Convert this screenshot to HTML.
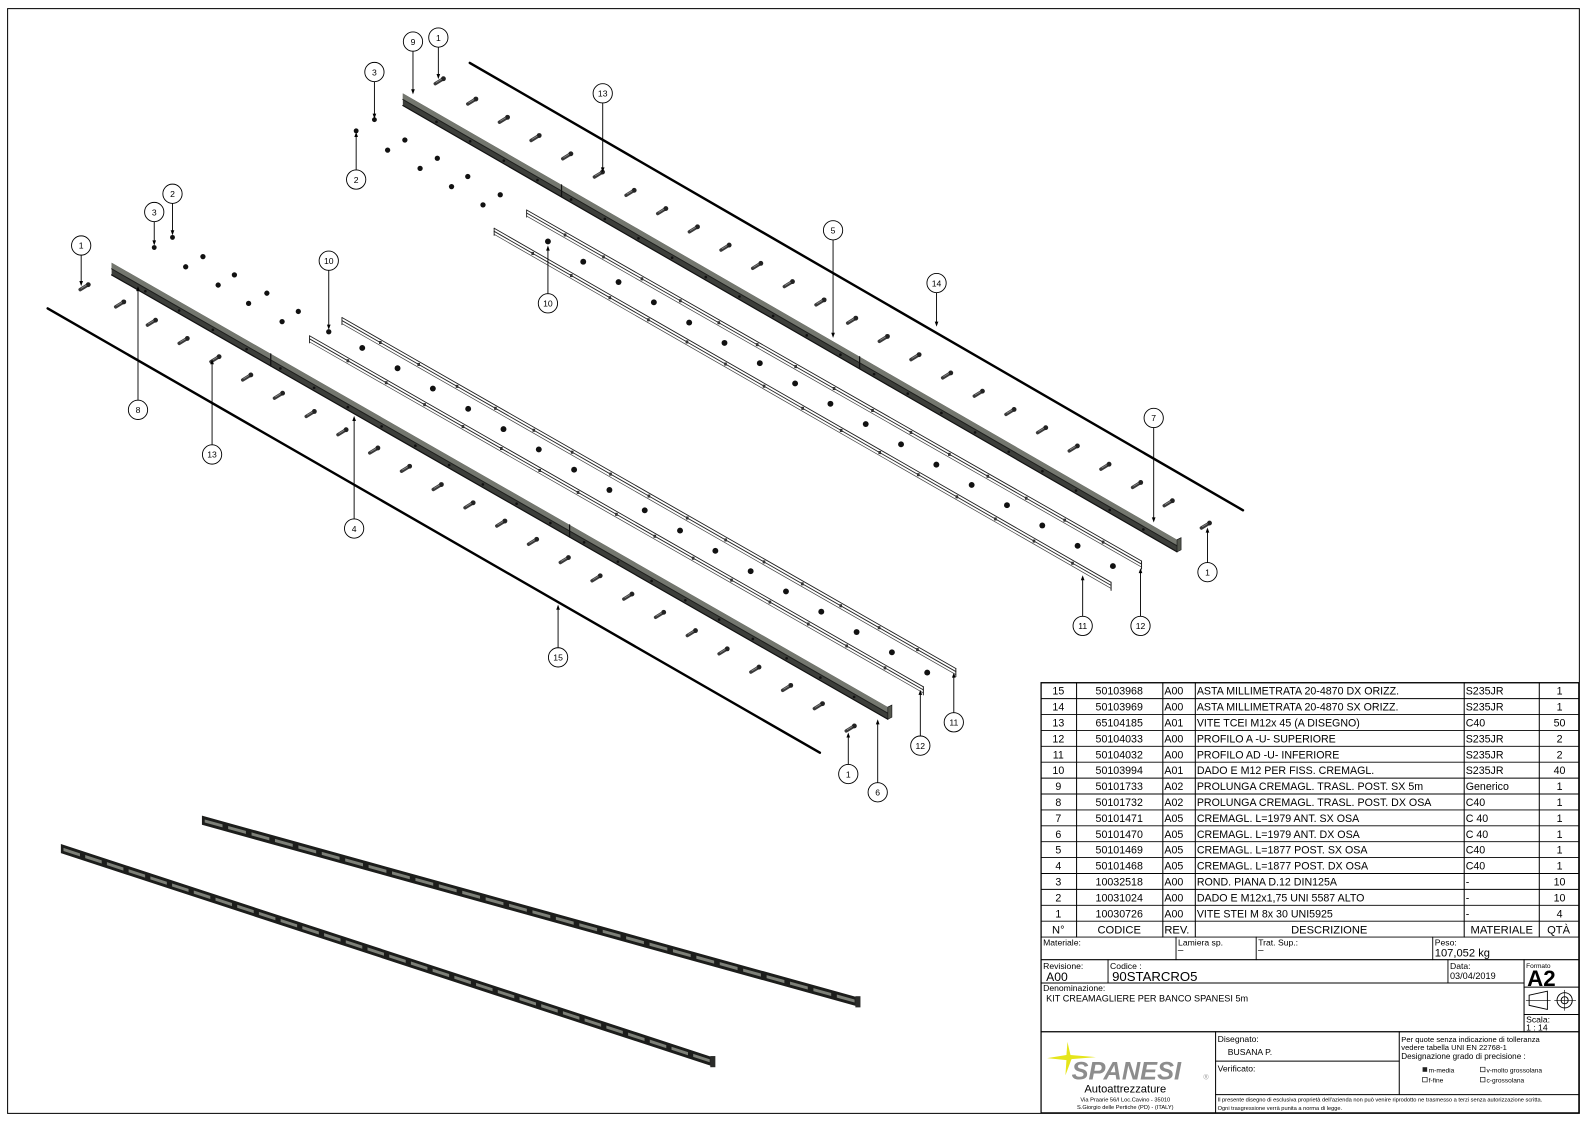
<!DOCTYPE html>
<html><head><meta charset="utf-8"><style>
html,body{margin:0;padding:0;background:#fff;}
svg{display:block;}
text{font-family:"Liberation Sans",Arial,sans-serif;}
</style></head><body>
<svg id="s" width="1589" height="1122" viewBox="0 0 1566 1106" preserveAspectRatio="none" xmlns="http://www.w3.org/2000/svg">
<rect x="0" y="0" width="1566" height="1106" fill="#fff"/>
<rect x="7.5" y="8.5" width="1549" height="1089" fill="none" stroke="#000" stroke-width="1"/>
<g id="draw"></g>
<g id="tbl" font-size="10.5">
<rect x="1026" y="673" width="530" height="424" fill="#fff" stroke="#000" stroke-width="1.2"/>
</g>
</svg>
<script>
(function(){
const NS="http://www.w3.org/2000/svg";
const D=document.getElementById('draw'),T=document.getElementById('tbl');
function el(p,tag,a,t){const e=document.createElementNS(NS,tag);for(const k in a)e.setAttribute(k,a[k]);if(t!==undefined)e.textContent=t;p.appendChild(e);return e;}
function line(p,x1,y1,x2,y2,c,w){return el(p,'line',{x1:x1,y1:y1,x2:x2,y2:y2,stroke:c||'#000','stroke-width':w||1,'stroke-linecap':'round'});}
function txt(p,x,y,s,sz,anchor,extra){const a={x:x,y:y,'font-size':sz||10.5,fill:'#000'};if(anchor)a['text-anchor']=anchor;Object.assign(a,extra||{});return el(p,'text',a,s);}
function bar(x1,y1,x2,y2,joints){
  el(D,'polygon',{points:`${x1},${y1-3} ${x2},${y2-3} ${x2},${y2+9} ${x1},${y1+9}`,fill:'#3c3e3a'});
  el(D,'polygon',{points:`${x1},${y1-3} ${x2},${y2-3} ${x2},${y2+3} ${x1},${y1+3}`,fill:'#74776f'});
  line(D,x1,y1+3,x2,y2+3,'#1e1f1d',1);
  line(D,x1,y1+9,x2,y2+9,'#111',1.2);
  el(D,'polygon',{points:`${x2},${y2-3} ${x2+4},${y2-5} ${x2+4},${y2+7} ${x2},${y2+9}`,fill:'#55584f',stroke:'#111','stroke-width':0.6});
  const n=Math.round((x2-x1)/33);
  for(let i=1;i<n;i++){const t=i/n;el(D,'circle',{cx:x1+(x2-x1)*t,cy:y1+(y2-y1)*t+6,r:1.3,fill:'#111'});}
  (joints||[]).forEach(t=>{const x=x1+(x2-x1)*t,y=y1+(y2-y1)*t;line(D,x,y-3,x,y+9,'#111',1.2);});
}
function profile(x1,y1,x2,y2){
  line(D,x1,y1,x2,y2,'#222',0.9);line(D,x1,y1+3,x2,y2+3,'#222',0.9);line(D,x1,y1+6,x2,y2+6,'#444',0.7);
  line(D,x1,y1,x1,y1+7,'#222',0.9);line(D,x2,y2,x2,y2+8,'#222',1);
  const n=Math.round((x2-x1)/37);
  for(let i=1;i<n;i++){const t=i/n;el(D,'rect',{x:x1+(x2-x1)*t-1.3,y:y1+(y2-y1)*t+1.5,width:2.6,height:3,fill:'#333'});}
}
function rod(x1,y1,x2,y2){line(D,x1,y1,x2,y2,'#000',2.4);}
function bolt(x,y){line(D,x-4,y+2.5,x+3,y-1.8,'#3a3a3a',3.4);el(D,'circle',{cx:x+4,cy:y-2.4,r:2.4,fill:'#222'});line(D,x-3,y+1.2,x+2,y-1.8,'#8a8a8a',0.8);}
function dot(x,y,r){el(D,'circle',{cx:x,cy:y,r:r||2.8,fill:'#111'});}
function balloon(bx,by,s,tx,ty){
  const r=9.5;const dir=ty>by?1:-1;
  line(D,bx,by+dir*r,tx,ty-dir*4,'#000',0.9);
  el(D,'polygon',{points:`${tx},${ty} ${tx-1.8},${ty-dir*5} ${tx+1.8},${ty-dir*5}`,fill:'#000'});
  el(D,'circle',{cx:bx,cy:by,r:r,fill:'#fff',stroke:'#000','stroke-width':0.9});
  txt(D,bx,by+3.2,s,8.5,'middle');
}
rod(463,62,1225,503);
for(let i=0;i<23;i++)bolt(465+i*31.2,100+i*18);
bar(397,95,1160,535,[0.205,0.59]);
profile(519,207,1125,553);
profile(487,225,1095,574);
for(let i=0;i<17;i++)dot(540+i*34.8,238+i*20,2.9);
[[382,148],[399,138],[414,166],[431,156],[445,184],[461,174],[476,202],[493,192]].forEach(p=>dot(p[0],p[1],2.6));
dot(351,129,2.4);dot(369,118,2.4);
bolt(433,80);bolt(1188,518);
rod(47,304,808,742);
for(let i=0;i<23;i++)bolt(118+i*31.3,300+i*18);
bar(110,262,875,700,[0.205,0.59]);
profile(337,313,942,659);
profile(305,331,910,677);
for(let i=0;i<17;i++)dot(357+i*34.8,343+i*20,2.9);
[[183,263],[200,253],[215,281],[231,271],[245,299],[263,289],[278,317],[294,307]].forEach(p=>dot(p[0],p[1],2.6));
dot(152,244,2.4);dot(170,234,2.4);dot(324,327,2.6);
bolt(83,283);bolt(838,718);
balloon(407,41,'9',407,93);balloon(432,37,'1',432,78);balloon(369,71,'3',369,117);
balloon(351,177,'2',351,130);balloon(594,92,'13',594,170);balloon(821,227,'5',821,333);
balloon(923,279,'14',923,322);balloon(1137,412,'7',1137,515);balloon(540,299,'10',540,242);
balloon(1190,564,'1',1190,520);balloon(1067,617,'11',1067,567);balloon(1124,617,'12',1124,560);
balloon(80,242,'1',80,282);balloon(152,209,'3',152,242);balloon(170,191,'2',170,232);
balloon(324,257,'10',324,325);balloon(136,404,'8',136,282);balloon(209,448,'13',209,354);
balloon(349,521,'4',349,410);balloon(550,648,'15',550,596);balloon(836,763,'1',836,722);
balloon(865,781,'6',865,709);balloon(907,735,'12',907,680);balloon(940,712,'11',940,663);
function rail(x1,y1,x2,y2,slots){
  el(D,'polygon',{points:`${x1},${y1-4} ${x2},${y2-4} ${x2},${y2+5} ${x1},${y1+5}`,fill:'#1c1d1b'});
  for(let i=0;i<slots;i++){const t0=(i+0.12)/slots,t1=(i+0.88)/slots;
    el(D,'polygon',{points:`${x1+(x2-x1)*t0},${y1+(y2-y1)*t0-1} ${x1+(x2-x1)*t1},${y1+(y2-y1)*t1-1} ${x1+(x2-x1)*t1},${y1+(y2-y1)*t1+2} ${x1+(x2-x1)*t0},${y1+(y2-y1)*t0+2}`,fill:'#7d8078'});}
  el(D,'rect',{x:x2-2,y:y2-5,width:5,height:11,fill:'#2a2b29'});
}
rail(199,808,845,987,28);
rail(60,836,702,1046,30);
const cols=[1026,1061,1146,1178,1443,1517,1556];
const rows=[
['15','50103968','A00','ASTA MILLIMETRATA 20-4870 DX ORIZZ.','S235JR','1'],
['14','50103969','A00','ASTA MILLIMETRATA 20-4870 SX ORIZZ.','S235JR','1'],
['13','65104185','A01','VITE TCEI M12x 45 (A DISEGNO)','C40','50'],
['12','50104033','A00','PROFILO A -U- SUPERIORE','S235JR','2'],
['11','50104032','A00','PROFILO AD -U- INFERIORE','S235JR','2'],
['10','50103994','A01','DADO E M12 PER FISS. CREMAGL.','S235JR','40'],
['9','50101733','A02','PROLUNGA CREMAGL. TRASL. POST. SX 5m','Generico','1'],
['8','50101732','A02','PROLUNGA CREMAGL. TRASL. POST. DX OSA','C40','1'],
['7','50101471','A05','CREMAGL. L=1979 ANT. SX OSA','C 40','1'],
['6','50101470','A05','CREMAGL. L=1979 ANT. DX OSA','C 40','1'],
['5','50101469','A05','CREMAGL. L=1877 POST. SX OSA','C40','1'],
['4','50101468','A05','CREMAGL. L=1877 POST. DX OSA','C40','1'],
['3','10032518','A00','ROND. PIANA D.12 DIN125A','-','10'],
['2','10031024','A00','DADO E M12x1,75 UNI 5587 ALTO','-','10'],
['1','10030726','A00','VITE STEI M 8x 30 UNI5925','-','4']];
const TOP=673,rh=15.67;
for(let i=0;i<=16;i++){const y=TOP+i*rh;line(T,1026,y,1556,y,'#000',0.9);}
cols.forEach(x=>line(T,x,TOP,x,TOP+16*rh,'#000',1));
rows.forEach((r,i)=>{const y=TOP+i*rh+11.8;
  txt(T,1043,y,r[0],10.5,'middle');txt(T,1103,y,r[1],10.5,'middle');txt(T,1147.5,y,r[2],10.5);
  txt(T,1179.5,y,r[3],10.5);txt(T,1444.5,y,r[4],10.5);txt(T,1537,y,r[5],10.5,'middle');});
{const y=TOP+15*rh+12;txt(T,1043,y,'N°',11,'middle');txt(T,1103,y,'CODICE',11,'middle');txt(T,1147.5,y,'REV.',11);
 txt(T,1310,y,'DESCRIZIONE',11,'middle');txt(T,1480,y,'MATERIALE',11,'middle');txt(T,1536,y,'QTÀ',11,'middle');}
const hb=TOP+16*rh;
line(T,1026,946,1556,946,'#000',1);
[1159,1238,1412].forEach(x=>line(T,x,hb,x,946,'#000',0.9));
txt(T,1028,932,'Materiale:',8.5);txt(T,1161,932,'Lamiera sp.',8.5);txt(T,1240,932,'Trat. Sup.:',8.5);
txt(T,1414,932,'Peso:',8.5);txt(T,1414,943,'107,052 kg',11);
line(T,1161,937,1166,937,'#000',0.6);line(T,1240,937,1245,937,'#000',0.6);
line(T,1026,969,1502,969,'#000',1);
[1092,1427].forEach(x=>line(T,x,946,x,969,'#000',0.9));
line(T,1502,946,1502,1017,'#000',1);
txt(T,1028,955,'Revisione:',8.5);txt(T,1031,967,'A00',12);
txt(T,1094,955,'Codice :',8.5);txt(T,1096,967,'90STARCRO5',13);
txt(T,1429,955,'Data:',8.5);txt(T,1429,965,'03/04/2019',9);
txt(T,1504,954,'Formato',6.5);txt(T,1505,972,'A2',22,null,{'font-weight':'bold'});
line(T,1502,973,1556,973,'#000',1);line(T,1502,1000,1556,1000,'#000',1);
el(T,'polygon',{points:'1507,981 1525,977 1525,995 1507,991',fill:'none',stroke:'#000','stroke-width':0.9});
line(T,1504,986,1528,986,'#000',0.6);
el(T,'circle',{cx:1542,cy:986,r:7.5,fill:'none',stroke:'#000','stroke-width':0.9});
el(T,'circle',{cx:1542,cy:986,r:3.5,fill:'none',stroke:'#000','stroke-width':0.9});
line(T,1532,986,1553,986,'#000',0.6);line(T,1542,976,1542,996,'#000',0.6);
txt(T,1504,1008,'Scala:',8.5);txt(T,1504,1016,'1 : 14',8.5);
txt(T,1028,977,'Denominazione:',8.5);txt(T,1031,987,'KIT CREAMAGLIERE PER BANCO SPANESI 5m',9);
line(T,1026,1017,1556,1017,'#000',1.2);
line(T,1198,1017,1198,1097,'#000',1);line(T,1379,1017,1379,1079,'#000',1);
line(T,1198,1046,1379,1046,'#000',0.9);line(T,1198,1079,1556,1079,'#000',0.9);
txt(T,1200,1027,'Disegnato:',8.5);txt(T,1210,1040,'BUSANA P.',8.5);txt(T,1200,1056,'Verificato:',8.5);
txt(T,1381,1027,'Per quote senza indicazione di tolleranza',7.5);
txt(T,1381,1035,'vedere tabella UNI EN 22768-1',7.5);
txt(T,1381,1044,'Designazione grado di precisione :',8);
el(T,'rect',{x:1402,y:1052,width:4.5,height:4.5,fill:'#222'});txt(T,1408,1057,'m-media',6.5);
el(T,'rect',{x:1459,y:1052,width:4.5,height:4.5,fill:'none',stroke:'#000','stroke-width':0.6});txt(T,1465,1057,'v-molto grossolana',6.5);
el(T,'rect',{x:1402,y:1062,width:4.5,height:4.5,fill:'none',stroke:'#000','stroke-width':0.6});txt(T,1408,1067,'f-fine',6.5);
el(T,'rect',{x:1459,y:1062,width:4.5,height:4.5,fill:'none',stroke:'#000','stroke-width':0.6});txt(T,1465,1067,'c-grossolana',6.5);
txt(T,1200,1086,"Il presente disegno di esclusiva proprietà dell'azienda non può venire riprodotto ne trasmesso a terzi senza autorizzazione scritta.",5.6);
txt(T,1200,1094,'Ogni trasgressione verrà punita a norma di legge.',5.6);
el(T,'path',{d:'M1052,1027 L1055,1040 L1080,1042 L1056,1044 L1050,1060 L1051,1045 L1032,1043 L1051,1040 Z',fill:'#e5e51a'});
txt(T,1110,1064,'SPANESI',25,'middle',{'font-weight':'bold','font-style':'italic',fill:'#8d8d8d'});
txt(T,1186,1064,'®',7,null,{fill:'#999'});
txt(T,1109,1077,'Autoattrezzature',11,'middle');
txt(T,1109,1086,'Via Praarie 56/I  Loc.Cavino - 35010',5.6,'middle');
txt(T,1109,1093,'S.Giorgio delle Pertiche (PD) - (ITALY)',5.6,'middle');
})();
</script>
</body></html>
